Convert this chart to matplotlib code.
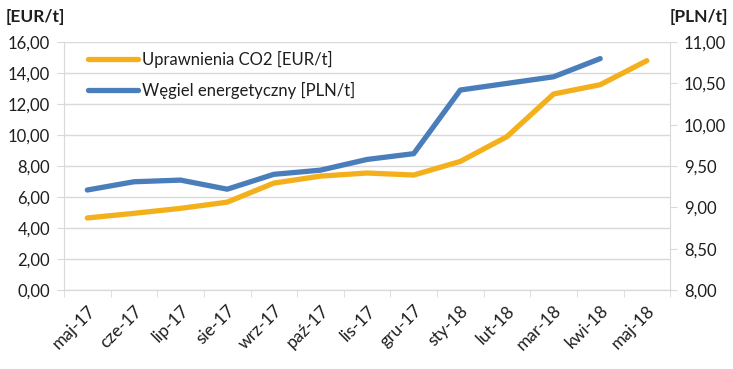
import matplotlib
matplotlib.use("Agg")
import matplotlib.pyplot as plt
from matplotlib.ticker import FuncFormatter, FixedLocator

# data
months = ["maj-17", "cze-17", "lip-17", "sie-17", "wrz-17", "paź-17", "lis-17",
          "gru-17", "sty-18", "lut-18", "mar-18", "kwi-18", "maj-18"]
co2_eur = [4.65, 4.95, 5.27, 5.67, 6.90, 7.35, 7.55, 7.42, 8.30, 9.90, 12.65, 13.25, 14.80]
coal_pln = [9.21, 9.31, 9.33, 9.22, 9.40, 9.45, 9.58, 9.65, 10.42, 10.50, 10.58, 10.80]

ORANGE = "#F4B01B"
BLUE = "#4A7EBB"
GRID = "#D9D9D9"
TXT = "#1E1E1E"

plt.rcParams["font.family"] = ["Lato", "DejaVu Sans"]


def comma_fmt(v, pos):
    return f"{v:.2f}".replace(".", ",")


fig = plt.figure(figsize=(7.33, 3.69), dpi=100)
ax = fig.add_axes([0.0873, 0.214, 0.827, 0.672])
ax2 = ax.twinx()

x = list(range(len(months)))
l1, = ax.plot(x, co2_eur, color=ORANGE, lw=3.8, solid_capstyle="round",
              label="Uprawnienia CO2 [EUR/t]")
l2, = ax2.plot(x[:len(coal_pln)], coal_pln, color=BLUE, lw=3.8, solid_capstyle="round",
               label="Węgiel energetyczny [PLN/t]")

ax.set_xlim(-0.5, len(months) - 0.5)
ax.set_ylim(0, 16)
ax.set_yticks([0, 2, 4, 6, 8, 10, 12, 14, 16])
ax.yaxis.set_major_formatter(FuncFormatter(comma_fmt))
ax2.set_ylim(8, 11)
ax2.set_yticks([8, 8.5, 9, 9.5, 10, 10.5, 11])
ax2.yaxis.set_major_formatter(FuncFormatter(comma_fmt))

ax.grid(axis="y", color=GRID, lw=1)
ax.set_axisbelow(True)

# category ticks: labels at centres, tick marks at boundaries
ax.set_xticks(x)
ax.set_xticklabels(months, rotation=45, ha="right", rotation_mode="anchor")
ax.xaxis.set_minor_locator(FixedLocator([i - 0.5 for i in range(len(months) + 1)]))
ax.tick_params(axis="x", which="major", length=0, pad=9, labelsize=12.5, labelcolor=TXT)
ax.tick_params(axis="x", which="minor", length=5, color=GRID)
ax.tick_params(axis="y", length=5, color=GRID, labelsize=12, labelcolor=TXT, pad=5)
ax2.tick_params(axis="y", length=5, color=GRID, labelsize=12, labelcolor=TXT, pad=5)

for a in (ax, ax2):
    a.spines["top"].set_visible(False)
    for side in ("bottom", "left", "right"):
        a.spines[side].set_color(GRID)
ax.spines["right"].set_visible(False)
ax2.spines["left"].set_visible(False)

fig.text(0.008, 0.94, "[EUR/t]", fontsize=12.5, fontweight="bold", color=TXT)
fig.text(0.993, 0.94, "[PLN/t]", fontsize=12.5, fontweight="bold", color=TXT, ha="right")

ax.legend(handles=[l1, l2], loc="upper left", bbox_to_anchor=(0.02, 1.01),
          frameon=False, fontsize=12, handlelength=3.0, handletextpad=0.25,
          labelspacing=0.8, labelcolor=TXT, borderaxespad=0.3)

fig.savefig("out.png", dpi=100)
